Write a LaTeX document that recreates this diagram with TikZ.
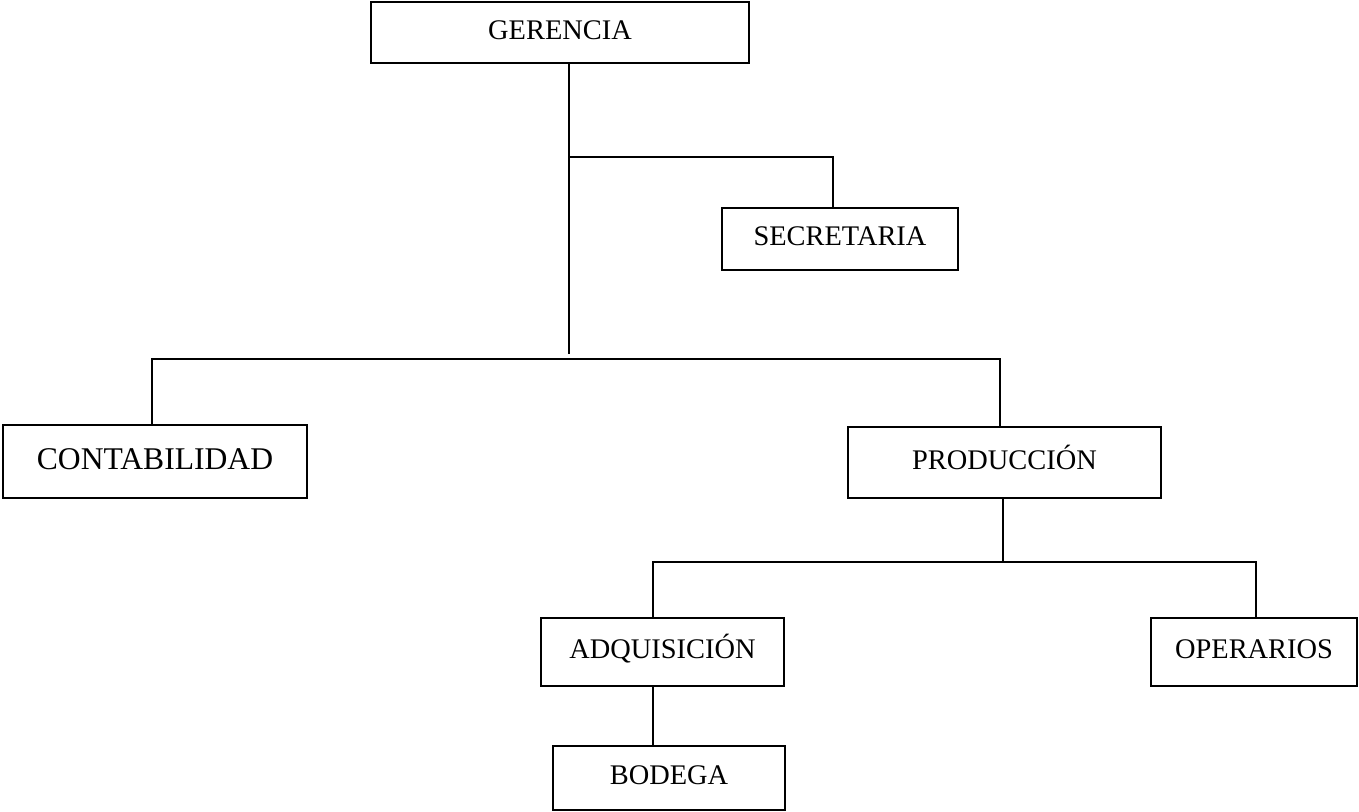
\documentclass[tikz,border=0pt]{standalone}
\usepackage{fontspec}
\setmainfont{Liberation Serif}

\tikzset{
    caja/.style={draw, line width=1.3pt, inner sep=0pt, anchor=center,
        font=\fontsize{21.3}{25}\selectfont, text height=14pt, text depth=4pt},
    linea/.style={line width=1.3pt}
}

\begin{document}
\begin{tikzpicture}[x=0.75pt,y=-0.75pt]
        \useasboundingbox (0,0) rectangle (1359,812);

        % cajas
        \node[caja, minimum width=0.75*378, minimum height=0.75*61] (gerencia) at (560,32.5) {GERENCIA};
        \node[caja, minimum width=0.75*236, minimum height=0.75*62] (secretaria) at (840,239) {SECRETARIA};
        \node[caja, minimum width=0.75*304, minimum height=0.75*73, font=\fontsize{23.7}{28}\selectfont, text height=15.5pt] (contabilidad) at (155,461.5) {CONTABILIDAD};
        \node[caja, minimum width=0.75*313, minimum height=0.75*71] (produccion) at (1004.5,462.5) {PRODUCCIÓN};
        \node[caja, minimum width=0.75*243, minimum height=0.75*68] (adquisicion) at (662.5,652) {ADQUISICIÓN};
        \node[caja, minimum width=0.75*206, minimum height=0.75*68] (operarios) at (1254,652) {OPERARIOS};
        \node[caja, minimum width=0.75*232, minimum height=0.75*64] (bodega) at (669,778) {BODEGA};

        % puntos de paso
        \coordinate (tronco) at (569,354);
        \coordinate (ramasec) at (569,157);
        \coordinate (esqsec) at (833,157);
        \coordinate (ramaizq) at (152,359);
        \coordinate (ramader) at (1000,359);
        \coordinate (bajaprod) at (1003,562);
        \coordinate (ramaadq) at (653,562);
        \coordinate (ramaope) at (1256,562);

        % lineas
        \draw[linea] (gerencia.south -| tronco) -- (tronco);
        \draw[linea] (ramasec) -- (esqsec) -- (secretaria.north -| esqsec);
        \draw[linea] (contabilidad.north -| ramaizq) -- (ramaizq) -- (ramader) -- (produccion.north -| ramader);
        \draw[linea] (produccion.south -| bajaprod) -- (bajaprod);
        \draw[linea] (adquisicion.north -| ramaadq) -- (ramaadq) -- (ramaope) -- (operarios.north -| ramaope);
        \draw[linea] (adquisicion.south -| ramaadq) -- (bodega.north -| ramaadq);

    \end{tikzpicture}
\end{document}
